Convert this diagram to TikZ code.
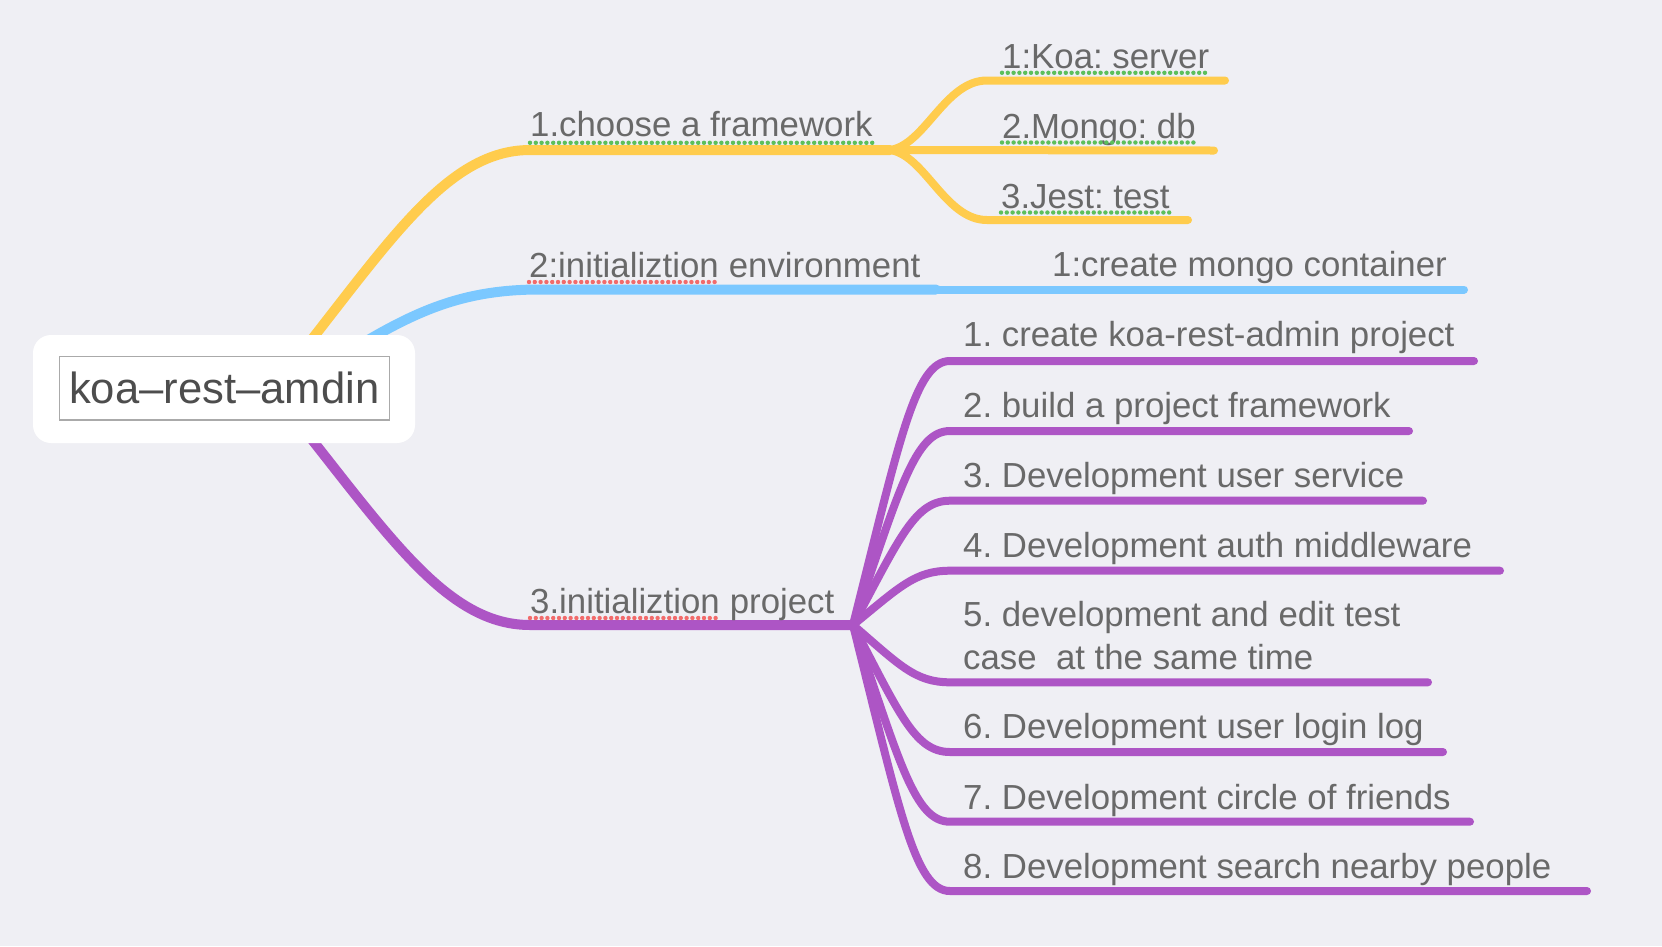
\documentclass[tikz,border=0pt]{standalone}
\usepackage{fontspec}
\setmainfont{Liberation Sans}
\usepackage{xcolor}
\usetikzlibrary{positioning}
\frenchspacing

\definecolor{bgcol}{HTML}{EFEFF4}
\definecolor{yellowbr}{HTML}{FFCC4D}
\definecolor{bluebr}{HTML}{7BC8FF}
\definecolor{purplebr}{HTML}{AD55C5}
\definecolor{txtgrey}{HTML}{696969}
\definecolor{rootgrey}{HTML}{4D4D4D}
\definecolor{framegrey}{HTML}{AAAAAA}
\definecolor{dotgreen}{HTML}{5CBF5C}
\definecolor{dotred}{HTML}{F26B6B}

\tikzset{
    topic/.style={anchor=base west, inner sep=0pt, text=txtgrey,
        font=\fontsize{34.8}{42.6}\selectfont},
    branch/.style={line width=10pt, line cap=round},
    twig/.style={line width=8pt, line cap=round},
    squiggle/.style={line width=4.4pt, line cap=round, dash pattern=on 0pt off 5.8pt}
}

\begin{document}
\begin{tikzpicture}[x=1pt, y=-1pt]
    % Background
    \fill[bgcol] (0,0) rectangle (1662,946);
    \useasboundingbox (0,0) rectangle (1662,946);

    % Main branches from the root
    \coordinate (rootA) at (265,398);
    \coordinate (rootB) at (280,395);
    \coordinate (rootC) at (265,381);
    \coordinate (fwStart) at (530,150);
    \coordinate (fwJoin) at (890,150);
    \coordinate (envStart) at (540,289.5);
    \coordinate (envJoin) at (936,289.5);
    \coordinate (projStart) at (530,625);
    \coordinate (projJoin) at (853,625);
    \draw[branch, yellowbr] (rootA) .. controls (380,258) and (440,150) .. (fwStart) -- (fwJoin);
    \draw[branch, bluebr] (rootB) .. controls (390,325) and (440,289.5) .. (envStart) -- (envJoin);
    \draw[branch, purplebr] (rootC) .. controls (380,521) and (440,625) .. (projStart) -- (projJoin);

    % Root
    \node[fill=white, rounded corners=18pt, minimum width=382pt, minimum height=108pt] (rootbox) at (224,389) {};
    \node[draw=framegrey, line width=1.3pt, inner sep=0pt, minimum width=330pt, minimum height=63.3pt,
        text=rootgrey, font=\fontsize{43.6}{52}\selectfont] (root) at (224.3,388.4) {koa–rest–amdin};

    % 1.choose a framework
    \node[topic] (fw) at (530,136.8) {1.choose a framework};
    \draw[squiggle, dotgreen] ([yshift=-6pt]fw.base west) -- ([yshift=-6pt]fw.base east);

    \coordinate (koaA) at (987,80.5);
    \coordinate (koaB) at (1225,80.5);
    \coordinate (mongoB) at (1214,150.5);
    \coordinate (jestA) at (987,220);
    \coordinate (jestB) at (1188,220);
    \draw[twig, yellowbr] (fwJoin) .. controls (925,145) and (945,80.5) .. (koaA) -- (koaB);
    \draw[twig, yellowbr] (fwJoin) -- (mongoB);
    \draw[twig, yellowbr] (fwJoin) .. controls (925,155) and (945,220) .. (jestA) -- (jestB);

    \node[topic] (koa) at (1002,68.3) {1:Koa: server};
    \node[topic] (mongo) at (1002,138) {2.Mongo: db};
    \node[topic] (jest) at (1001,208) {3.Jest: test};
    \draw[squiggle, dotgreen] ([yshift=-4.5pt]koa.base west) -- ([yshift=-4.5pt]koa.base east);
    \draw[squiggle, dotgreen] ([yshift=-4.5pt]mongo.base west) -- ([yshift=-4.5pt]mongo.base east);
    \draw[squiggle, dotgreen] ([yshift=-4.5pt]jest.base west) -- ([yshift=-4.5pt]jest.base east);

    % 2:initializtion environment
    \node[topic] (env) at (529,277) {2:initializtion};
    \node[topic] (envrest) at (env.base east) {\ environment};
    \draw[squiggle, dotred] ([yshift=-5pt]env.base west) -- ([yshift=-5pt]env.base east);

    \coordinate (mongoC) at (1464,289.5);
    \draw[twig, bluebr] (envJoin) -- (mongoC);
    \node[topic] (container) at (1052,276.7) {1:create mongo container};

    % 3.initializtion project
    \node[topic] (proj) at (530,613) {3.initializtion};
    \node[topic] (projrest) at (proj.base east) {\ project};
    \draw[squiggle, dotred] ([yshift=-5pt]proj.base west) -- ([yshift=-5pt]proj.base east);

    \coordinate (taskOneA) at (950,361);
    \coordinate (taskOneB) at (1474,361);
    \coordinate (taskTwoA) at (950,431);
    \coordinate (taskTwoB) at (1409,431);
    \coordinate (taskThreeA) at (950,500.7);
    \coordinate (taskThreeB) at (1423,500.7);
    \coordinate (taskFourA) at (950,570.7);
    \coordinate (taskFourB) at (1500,570.7);
    \coordinate (taskFiveA) at (950,682.3);
    \coordinate (taskFiveB) at (1428,682.3);
    \coordinate (taskSixA) at (950,752);
    \coordinate (taskSixB) at (1443,752);
    \coordinate (taskSevenA) at (950,821.7);
    \coordinate (taskSevenB) at (1470,821.7);
    \coordinate (taskEightA) at (950,891);
    \coordinate (taskEightB) at (1587,891);
    \draw[twig, purplebr] (projJoin) .. controls (899.6,440.2) and (915,361) .. (taskOneA) -- (taskOneB);
    \draw[twig, purplebr] (projJoin) .. controls (899.6,489.2) and (915,431) .. (taskTwoA) -- (taskTwoB);
    \draw[twig, purplebr] (projJoin) .. controls (899.6,538) and (915,500.7) .. (taskThreeA) -- (taskThreeB);
    \draw[twig, purplebr] (projJoin) .. controls (899.6,587) and (915,570.7) .. (taskFourA) -- (taskFourB);
    \draw[twig, purplebr] (projJoin) .. controls (899.6,665.1) and (915,682.3) .. (taskFiveA) -- (taskFiveB);
    \draw[twig, purplebr] (projJoin) .. controls (899.6,713.9) and (915,752) .. (taskSixA) -- (taskSixB);
    \draw[twig, purplebr] (projJoin) .. controls (899.6,762.7) and (915,821.7) .. (taskSevenA) -- (taskSevenB);
    \draw[twig, purplebr] (projJoin) .. controls (899.6,811.2) and (915,891) .. (taskEightA) -- (taskEightB);

    \node[topic] (taskOne) at (963,346.7) {1. create koa-rest-admin project};
    \node[topic] (taskTwo) at (963,417.7) {2. build a project framework};
    \node[topic] (taskThree) at (963,487.2) {3. Development user service};
    \node[topic] (taskFour) at (963,557) {4. Development auth middleware};
    \node[topic, align=left] (taskFive) at (963,669.3) {5. development and edit test\\case\ \ at the same time};
    \node[topic] (taskSix) at (963,738.3) {6. Development user login log};
    \node[topic] (taskSeven) at (963,809) {7. Development circle of friends};
    \node[topic] (taskEight) at (963,878.3) {8. Development search nearby people};
\end{tikzpicture}
\end{document}
